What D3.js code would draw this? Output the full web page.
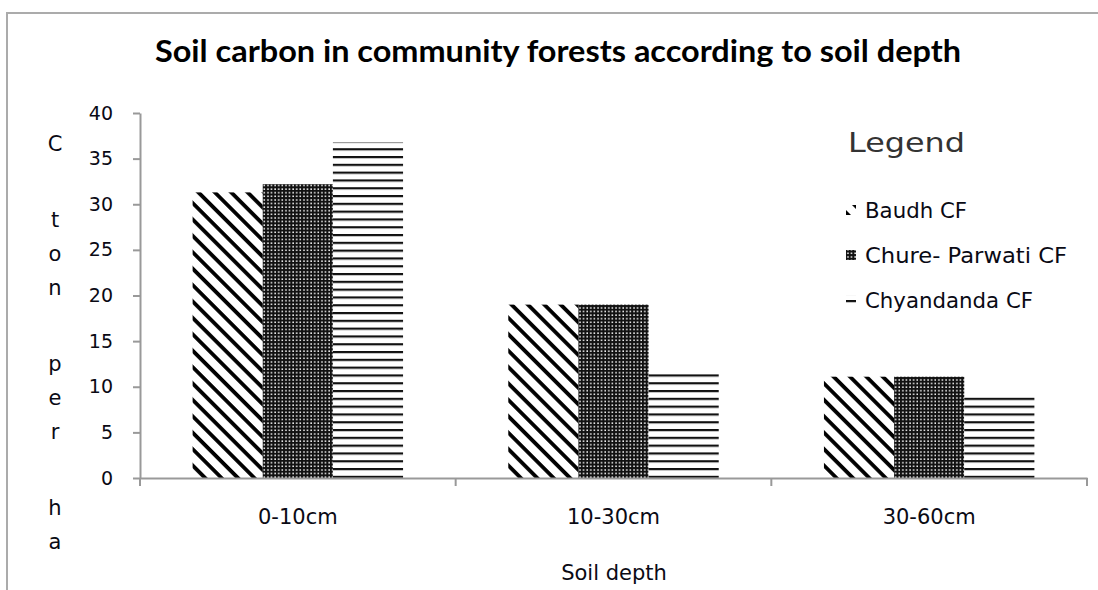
<!DOCTYPE html>
<html><head><meta charset="utf-8">
<script src="https://cdn.jsdelivr.net/npm/d3@7"></script>
<style>
html,body{margin:0;padding:0;background:#fff;}
svg{display:block;}
text{font-family:"DejaVu Sans",Verdana,sans-serif;fill:#0a0a14;}
</style></head>
<body>
<svg id="chart" width="1098" height="590"></svg>
<script>
const categories = ["0-10cm", "10-30cm", "30-60cm"];
const seriesNames = ["Baudh CF", "Chure- Parwati CF", "Chyandanda CF"];
const baudh = [31.3, 19.0, 11.1];
const chure = [32.2, 19.0, 11.1];
const chyandanda = [36.8, 11.4, 8.9];
const yTicks = [0, 5, 10, 15, 20, 25, 30, 35, 40];
const yLabelLetters = ["C", "", "t", "o", "n", "", "p", "e", "r", "", "h", "a"];
const title = "Soil carbon in community forests according to soil depth";

const seriesValues = [baudh, chure, chyandanda];
const patternIds = ["pDiag", "pDots", "pLines"];

const svg = d3.select("#chart");
const defs = svg.append("defs");

// diagonal "\" stripes
const pd = defs.append("pattern").attr("id", "pDiag").attr("patternUnits", "userSpaceOnUse")
  .attr("width", 11.6).attr("height", 11.6).attr("patternTransform", "rotate(45)");
pd.append("rect").attr("width", 11.6).attr("height", 11.6).attr("fill", "#fff");
pd.append("rect").attr("y", 0).attr("width", 11.6).attr("height", 3.8).attr("fill", "#000");

// dense dotted
const pt = defs.append("pattern").attr("id", "pDots").attr("patternUnits", "userSpaceOnUse")
  .attr("width", 3.6).attr("height", 3.6);
pt.append("rect").attr("width", 3.6).attr("height", 3.6).attr("fill", "#111");
pt.append("rect").attr("x", 1.2).attr("y", 1.2).attr("width", 1.5).attr("height", 1.5).attr("fill", "#fff");

// horizontal lines
const pl = defs.append("pattern").attr("id", "pLines").attr("patternUnits", "userSpaceOnUse")
  .attr("width", 8).attr("height", 7.8);
pl.append("rect").attr("width", 8).attr("height", 7.8).attr("fill", "#fff");
pl.append("rect").attr("y", 0).attr("width", 8).attr("height", 2.2).attr("fill", "#111");

// frame
svg.append("path").attr("d", "M7,590 L7,13 L1098,13").attr("fill", "none")
  .attr("stroke", "#ababab").attr("stroke-width", 2);

// title
svg.append("text").attr("x", 558).attr("y", 62).attr("text-anchor", "middle")
  .style("font-family", "Lato, 'Open Sans', sans-serif").style("font-weight", "bold")
  .style("font-size", "30px").attr("textLength", 806).attr("lengthAdjust", "spacingAndGlyphs")
  .style("fill", "#000").text(title);

const x0 = d3.scaleBand().domain(categories).range([140, 1087]).padding(0);
const step = x0.bandwidth();
const x1 = d3.scaleBand().domain(seriesNames).range([step / 6, step * 5 / 6]).padding(0);
const y = d3.scaleLinear().domain([0, 40]).range([478, 113]);

// bars
const groups = svg.append("g").selectAll("g").data(categories).join("g")
  .attr("transform", d => `translate(${x0(d)},0)`);
groups.selectAll("rect").data((c, ci) => seriesNames.map((s, si) => ({ s, si, v: seriesValues[si][ci] })))
  .join("rect")
  .attr("x", d => x1(d.s)).attr("width", x1.bandwidth())
  .attr("y", d => y(d.v)).attr("height", d => y(0) - y(d.v))
  .attr("fill", d => `url(#${patternIds[d.si]})`);

// y axis
const yAxis = svg.append("g").attr("transform", "translate(140,0)")
  .call(d3.axisLeft(y).tickValues(yTicks).tickSize(7).tickPadding(20).tickSizeOuter(0));
yAxis.select(".domain").attr("stroke", "#999").attr("stroke-width", 2);
yAxis.selectAll(".tick line").attr("stroke", "#999").attr("stroke-width", 2);
yAxis.selectAll(".tick text").style("font-size", "19px").style("font-family", "'DejaVu Sans', sans-serif").attr("fill", "#0a0a14");

// x axis
const xAxis = svg.append("g").attr("transform", "translate(0,478)")
  .call(d3.axisBottom(x0).tickSize(0).tickPadding(31).tickSizeOuter(0));
xAxis.select(".domain").attr("stroke", "#999").attr("stroke-width", 2);
xAxis.selectAll(".tick text").style("font-size", "21px").style("font-family", "'DejaVu Sans', sans-serif").attr("fill", "#0a0a14");
xAxis.selectAll(".boundary").data(categories.map(c => x0(c)).concat([x0.range()[1]]))
  .join("line").attr("class", "boundary")
  .attr("x1", d => d).attr("x2", d => d).attr("y1", 0).attr("y2", 8)
  .attr("stroke", "#999").attr("stroke-width", 2);

// x axis title
svg.append("text").attr("x", 614).attr("y", 580).attr("text-anchor", "middle")
  .style("font-size", "21px").text("Soil depth");

// y axis title: stacked letters
const yl = svg.append("text").attr("x", 55).attr("text-anchor", "middle").style("font-size", "21px");
let yy = 151;
yLabelLetters.forEach((ch, i) => {
  if (ch === "") { yy += 42; return; }
  yl.append("tspan").attr("x", 55).attr("y", yy).text(ch);
  yy += 34;
});

// legend
svg.append("text").attr("x", 848).attr("y", 152).style("font-size", "27px")
  .attr("textLength", 117).attr("lengthAdjust", "spacingAndGlyphs")
  .style("fill", "#333").text("Legend");
const legendWidths = [102, 202, 168];
const leg = svg.append("g").selectAll("g").data(seriesNames).join("g")
  .attr("transform", (d, i) => `translate(846,${210 + i * 45})`);
leg.append("rect").attr("x", 0).attr("y", -5).attr("width", 10).attr("height", 10)
  .attr("fill", (d, i) => `url(#${patternIds[i]})`);
leg.append("text").attr("x", 19).attr("y", 8).style("font-size", "21px")
  .attr("textLength", (d, i) => legendWidths[i]).attr("lengthAdjust", "spacingAndGlyphs").text(d => d);
</script>
</body></html>
